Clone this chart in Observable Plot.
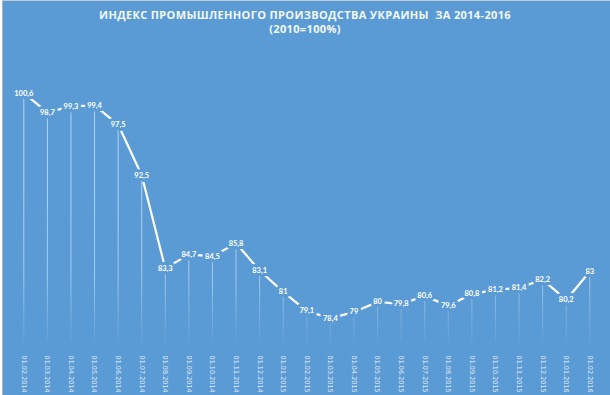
<!DOCTYPE html>
<html><head><meta charset="utf-8">
<script src="https://cdn.jsdelivr.net/npm/d3@7"></script>
<script src="https://cdn.jsdelivr.net/npm/@observablehq/plot@0.6"></script>
<style>
html,body{margin:0;padding:0;background:#ffffff;width:610px;height:395px;overflow:hidden;}
#bg{position:absolute;left:2px;top:0;width:608px;height:395px;background:#5b9bd5;border-left:1px solid #a9b4bf;border-top:1px solid #c3ccd5;box-sizing:border-box;}
#title{position:absolute;left:0;top:0;width:610px;height:40px;text-align:center;color:#f4f8fc;font-family:"Open Sans",sans-serif;font-weight:700;font-size:11px;letter-spacing:0.35px;line-height:14px;padding-top:8px;box-sizing:border-box;}
#chart{position:absolute;left:0;top:40px;}
</style></head>
<body>
<div id="bg"></div>
<div id="title">ИНДЕКС ПРОМЫШЛЕННОГО ПРОИЗВОДСТВА УКРАИНЫ&nbsp; ЗА 2014-2016<br>(2010=100%)</div>
<div id="chart"></div>
<script>
const dates = ["01.02.2014","01.03.2014","01.04.2014","01.05.2014","01.06.2014","01.07.2014","01.08.2014","01.09.2014","01.10.2014","01.11.2014","01.12.2014","01.01.2015","01.02.2015","01.03.2015","01.04.2015","01.05.2015","01.06.2015","01.07.2015","01.08.2015","01.09.2015","01.10.2015","01.11.2015","01.12.2015","01.01.2016","01.02.2016"];
const values = [100.6,98.7,99.3,99.4,97.5,92.5,83.3,84.7,84.5,85.8,83.1,81,79.1,78.4,79,80,79.8,80.6,79.6,80.8,81.2,81.4,82.2,80.2,83];
const yMin = 76, yMax = 101;

const data = dates.map((d, i) => ({date: d, value: values[i], label: String(values[i]).replace(".", ",")}));
const BG = "#5b9bd5";

function gradientDefs() {
  const ns = "http://www.w3.org/2000/svg";
  const defs = document.createElementNS(ns, "defs");
  const g = document.createElementNS(ns, "linearGradient");
  g.setAttribute("id", "fade");
  g.setAttribute("gradientUnits", "userSpaceOnUse");
  g.setAttribute("x1", 0); g.setAttribute("x2", 0);
  g.setAttribute("y1", 150); g.setAttribute("y2", 308);
  [[0, 0.55], [0.55, 0.45], [1, 0]].forEach(([o, a]) => {
    const s = document.createElementNS(ns, "stop");
    s.setAttribute("offset", o);
    s.setAttribute("stop-color", "#ffffff");
    s.setAttribute("stop-opacity", a);
    g.appendChild(s);
  });
  defs.appendChild(g);
  return defs;
}

const chart = Plot.plot({
  width: 610,
  height: 355,
  marginTop: 48.6,
  marginBottom: 53,
  marginLeft: 23.3,
  marginRight: 20.7,
  style: {background: "transparent", color: "#e3ecf6", overflow: "visible"},
  x: {type: "point", domain: dates, range: [23.3, 589.3], padding: 0, round: false, axis: null},
  y: {domain: [yMin, yMax], range: [302, 48.6], axis: null},
  marks: [
    gradientDefs,
    Plot.ruleX(data, {x: "date", y1: "value", y2: yMin, stroke: "url(#fade)", strokeWidth: 1}),
    Plot.line(data, {x: "date", y: "value", stroke: "#ffffff", strokeWidth: 2.2}),
    Plot.text(data, {x: "date", y: "value", text: "label", fill: "#ffffff", stroke: BG, strokeWidth: 6, fontWeight: "bold", fontSize: 7.5, fontFamily: "Lato, sans-serif"}),
    Plot.axisX({tickSize: 0, tickPadding: 13, tickRotate: 90, fontSize: 6.5, fontFamily: "DejaVu Sans, sans-serif", fill: "#e3ecf6", label: null})
  ]
});
document.getElementById("chart").appendChild(chart);
</script>
</body></html>
